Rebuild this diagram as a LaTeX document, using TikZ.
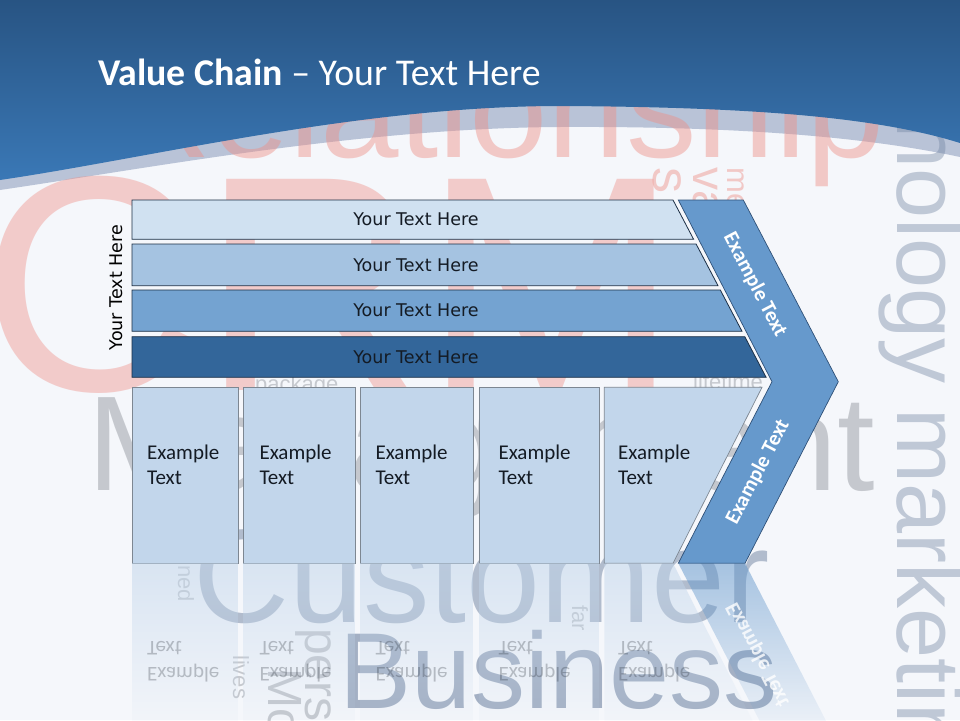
\documentclass[tikz,border=0pt]{standalone}
\usepackage{fontspec}
\setmainfont{Carlito}
\newfontfamily\wmfont{Liberation Sans}
\newfontfamily\barfont{DejaVu Sans}
\usetikzlibrary{fadings}

\definecolor{headtop}{HTML}{285483}
\definecolor{headbot}{HTML}{3A78B6}
\definecolor{swoosh}{HTML}{B9C3D7}
\definecolor{pagebg}{HTML}{F5F7FB}
\definecolor{wmpink}{HTML}{EE8F87}
\definecolor{wmgray}{HTML}{9FA3AA}
\definecolor{wmblue}{HTML}{6F82A0}
\definecolor{barA}{HTML}{D0E1F1}
\definecolor{barB}{HTML}{A5C3E1}
\definecolor{barC}{HTML}{74A3D1}
\definecolor{barD}{HTML}{33669A}
\definecolor{barline}{HTML}{1C2F45}
\definecolor{boxfill}{HTML}{C2D6EB}
\definecolor{boxline}{HTML}{7D8792}
\definecolor{chevfill}{HTML}{6699CC}
\definecolor{chevline}{HTML}{2E5077}
\definecolor{inktext}{HTML}{141B24}

\tikzfading[name=reflectfade, top color=transparent!45, middle color=transparent!85, bottom color=transparent!100]

\tikzset{
  barshape/.style={draw=barline, line width=0.8pt},
  bartext/.style={font=\barfont\fontsize{17.5}{20}\selectfont, text=inktext, inner sep=0pt},
  boxshape/.style={draw=boxline, fill=boxfill, line width=0.7pt},
  boxtext/.style={font=\fontsize{21}{25.7}\selectfont, text=inktext, align=left, anchor=north west, inner sep=0pt},
  chevshape/.style={draw=chevline, fill=chevfill, line width=0.7pt},
  chevtext/.style={font=\bfseries\fontsize{21}{25}\selectfont, text=white, inner sep=0pt},
  wmtext/.style={anchor=base west, inner sep=0pt},
  reflectfill/.style={path fading=reflectfade},
}

\begin{document}
\begin{tikzpicture}[x=1pt, y=-1pt]
    \useasboundingbox (0,0) rectangle (960,720);
    \clip (0,0) rectangle (960,720);

    % Background and swoosh
    \fill[pagebg] (0,0) rectangle (960,720);
    \fill[swoosh] (0,0) -- (960,0) -- (960,157)
        .. controls (880,140) and (760,126) .. (560,127)
        .. controls (360,128) and (150,168) .. (0,190) -- cycle;

    % Watermark words
    \node[wmtext, text=wmpink, opacity=.45, font=\wmfont\fontsize{141}{141}\selectfont] (wmrel) at (109,157) {Relationship};
    \node[wmtext, text=wmpink, opacity=.42, font=\wmfont\fontsize{307}{307}\selectfont] (wmcrm) at (-20,390) {CRM};
    \node[wmtext, text=wmpink, opacity=.45, rotate=-90, font=\wmfont\fontsize{52}{52}\selectfont] (wms) at (653,167) {s};
    \node[wmtext, text=wmpink, opacity=.45, rotate=-90, font=\wmfont\fontsize{46}{46}\selectfont] (wmva) at (693,167) {va};
    \node[wmtext, text=wmpink, opacity=.45, rotate=-90, font=\wmfont\fontsize{31}{31}\selectfont] (wmme) at (727,167) {me};
    \node[wmtext, text=wmgray, opacity=.55, font=\wmfont\fontsize{135}{135}\selectfont] (wmman) at (87,490) {Management};
    \node[wmtext, text=wmblue, opacity=.4, rotate=-90, font=\wmfont\fontsize{90}{90}\selectfont] (wmtech) at (897,-52) {technology marketing};
    \node[wmtext, text=wmblue, opacity=.5, font=\wmfont\fontsize{133}{133}\selectfont] (wmcust) at (193,622) {Customer};
    \node[wmtext, text=wmblue, opacity=.6, font=\wmfont\fontsize{108}{108}\selectfont] (wmbus) at (339,708) {Business};
    \node[wmtext, text=wmgray, opacity=.55, font=\wmfont\fontsize{22}{22}\selectfont] (wmpack) at (255,391) {package};
    \node[wmtext, text=wmgray, opacity=.55, font=\wmfont\fontsize{22}{22}\selectfont] (wmlife) at (693,389) {lifetime};
    \node[wmtext, text=wmgray, opacity=.55, rotate=-90, font=\wmfont\fontsize{22}{22}\selectfont] (wmfar) at (572,605) {far};
    \node[wmtext, text=wmgray, opacity=.55, rotate=-90, font=\wmfont\fontsize{22}{22}\selectfont] (wmned) at (178,565) {ned};
    \node[wmtext, text=wmgray, opacity=.55, rotate=-90, font=\wmfont\fontsize{22}{22}\selectfont] (wmlives) at (233,655) {lives};
    \node[wmtext, text=wmgray, opacity=.55, rotate=-90, font=\wmfont\fontsize{48}{48}\selectfont] (wmpers) at (305,628) {pers};
    \node[wmtext, text=wmgray, opacity=.55, rotate=-90, font=\wmfont\fontsize{48}{48}\selectfont] (wmmo) at (268,668) {Mo};

    % Header band
    \shade[top color=headtop, bottom color=headbot] (0,0) -- (960,0) -- (960,143)
        .. controls (880,118) and (760,107) .. (560,106)
        .. controls (360,106) and (150,158) .. (0,180) -- cycle;
    \node[anchor=base west, inner sep=0pt, text=white, font=\fontsize{37.8}{42}\selectfont] (title) at (98,85)
        {\textbf{Value Chain} – Your Text Here};

    % Bars
    \draw[barshape, fill=barA] (132,200) -- (673,200) -- (693.6,239.3) -- (132,239.3) -- cycle;
    \draw[barshape, fill=barB] (132,244) -- (696.1,244) -- (718,285.7) -- (132,285.7) -- cycle;
    \draw[barshape, fill=barC] (132,290) -- (720.3,290) -- (742,331.3) -- (132,331.3) -- cycle;
    \draw[barshape, fill=barD] (132,336.7) -- (744.8,336.7) -- (766.1,377.3) -- (132,377.3) -- cycle;
    \node[bartext] (bar1) at (416,219.6) {Your Text Here};
    \node[bartext] (bar2) at (416,265) {Your Text Here};
    \node[bartext] (bar3) at (416,310.7) {Your Text Here};
    \node[bartext] (bar4) at (416,357) {Your Text Here};
    \node[bartext, text=black, rotate=90] (side) at (116,287.5) {Your Text Here};

    % Chevron
    \draw[chevshape] (678.3,200) -- (743.3,200) -- (838.3,381.7) -- (745,563.3)
        -- (678.3,563.3) -- (772,381.7) -- cycle;
    \node[chevtext, rotate=-62.4] (chevup) at (755,285) {Example Text};
    \node[chevtext, rotate=62.4] (chevdown) at (758,472) {Example Text};

    % Boxes
    \draw[boxshape] (132.3,387.3) rectangle (238.3,563.3);
    \draw[boxshape] (243.3,387.3) rectangle (355.3,563.3);
    \draw[boxshape] (360.3,387.3) rectangle (473.3,563.3);
    \draw[boxshape] (479.3,387.3) rectangle (599.3,563.3);
    \draw[boxshape] (604.3,387.3) -- (762,387.3) -- (673,563.3) -- (604.3,563.3) -- cycle;
    \node[boxtext] (box1) at (147,444.3) {Example\\Text};
    \node[boxtext] (box2) at (259.3,444.3) {Example\\Text};
    \node[boxtext] (box3) at (375.3,444.3) {Example\\Text};
    \node[boxtext] (box4) at (498.3,444.3) {Example\\Text};
    \node[boxtext] (box5) at (618,444.3) {Example\\Text};

    % Reflection
    \fill[boxfill, reflectfill] (132.3,563.3) rectangle (238.3,739.3);
    \fill[boxfill, reflectfill] (243.3,563.3) rectangle (355.3,739.3);
    \fill[boxfill, reflectfill] (360.3,563.3) rectangle (473.3,739.3);
    \fill[boxfill, reflectfill] (479.3,563.3) rectangle (599.3,739.3);
    \fill[boxfill, reflectfill] (604.3,563.3) -- (673,563.3) -- (762,739.3) -- (604.3,739.3) -- cycle;
    \fill[chevfill, reflectfill] (678.3,563.3) -- (745,563.3) -- (838.3,744.9) -- (772,744.9) -- cycle;
    \begin{scope}[shift={(0,563.3)}, yscale=-1, shift={(0,-563.3)}]
        \begin{scope}[opacity=.25]
            \node[boxtext, transform shape] (rbox1) at (147,444.3) {Example\\Text};
            \node[boxtext, transform shape] (rbox2) at (259.3,444.3) {Example\\Text};
            \node[boxtext, transform shape] (rbox3) at (375.3,444.3) {Example\\Text};
            \node[boxtext, transform shape] (rbox4) at (498.3,444.3) {Example\\Text};
            \node[boxtext, transform shape] (rbox5) at (618,444.3) {Example\\Text};
        \end{scope}
        \node[chevtext, rotate=62.4, transform shape, opacity=.8] (rchev) at (758,472) {Example Text};
    \end{scope}

\end{tikzpicture}
\end{document}
